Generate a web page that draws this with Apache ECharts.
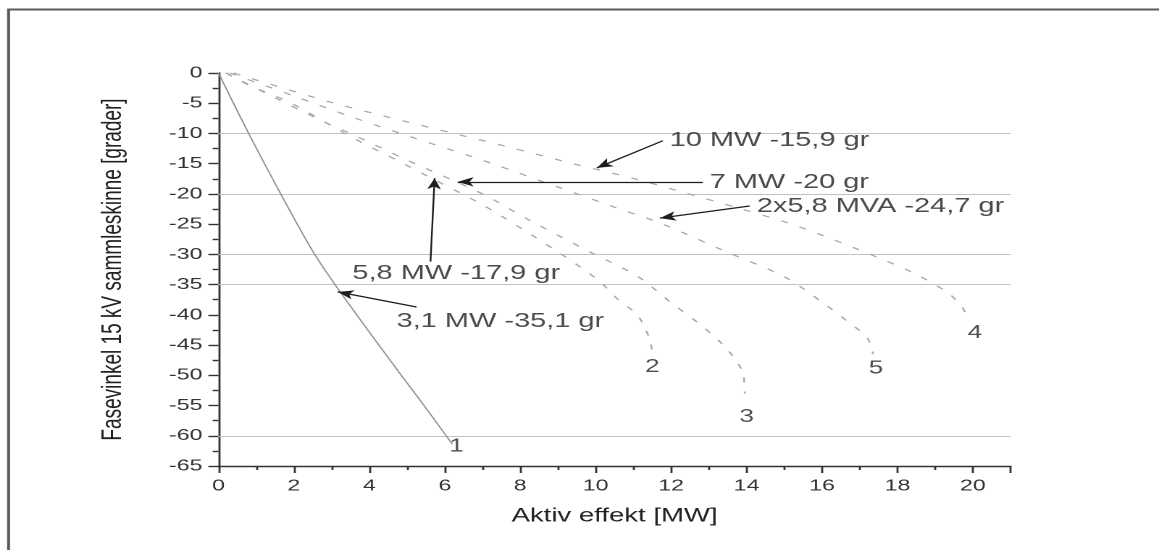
<!DOCTYPE html>
<html>
<head>
<meta charset="utf-8">
<script src="https://cdn.jsdelivr.net/npm/echarts@6/dist/echarts.min.js"></script>
<style>
html,body{margin:0;padding:0;background:#fff;overflow:hidden;}
#wrap{width:1159px;height:550px;overflow:hidden;position:relative;background:#fff;}
#c{width:800px;height:550px;transform:scaleX(1.44875);transform-origin:0 0;}
</style>
</head>
<body>
<div id="wrap"><div id="c"></div></div>
<script>
// ---- data ----
const curve1 = [[0,0],[0.8,-10],[1.65,-20],[2.5,-29.5],[3.1,-35.1],[3.7,-40.3],[4.3,-45.4],[4.87,-50.2],[5.45,-55],[6.0,-59.7],[6.2,-61.4]];
const curve2 = [[0.2,0],[0.8,-2],[1.8,-4.6],[2.4,-6.6],[3.5,-10.5],[5,-15.3],[5.8,-17.9],[7,-21.8],[8,-25.6],[9,-29.6],[9.8,-33],[10.2,-35],[10.6,-37.5],[11.1,-40],[11.4,-43.5],[11.5,-46]];
const curve3 = [[0.2,0],[1.5,-4.1],[2.94,-8.5],[3.5,-10],[5,-14.4],[7,-20],[8.2,-24.2],[9.85,-29.6],[11.1,-33.6],[12,-38],[12.85,-42],[13.5,-45.8],[13.9,-49.6],[13.95,-53]];
const curve4 = [[0.4,0],[2.9,-4.7],[4.5,-7.3],[6.5,-10.4],[7.6,-12.1],[9.4,-15],[10,-15.9],[11.1,-17.6],[12.3,-19.7],[13.7,-22.2],[15,-24.6],[15.9,-26.6],[17.2,-29.8],[18.4,-33],[19.3,-36.2],[19.7,-38.6],[19.9,-41]];
const curve5 = [[0.3,0],[2,-3.8],[3.5,-7.2],[5.07,-10.5],[6.6,-13.6],[7.4,-15.3],[8.7,-18.2],[9.65,-20.3],[10.5,-22.2],[11.7,-24.8],[13.55,-29.8],[15,-33.7],[16,-37.9],[16.7,-41.2],[17.2,-43.8],[17.35,-46.5]];

const curveNames = ['1','2','3','4','5'];
const curveLabelAnchors = [[6.31,-61.8],[11.5,-48.6],[14.0,-56.9],[20.05,-43.0],[17.43,-48.9]];

const gridValues = [-10,-20,-30,-35,-60];

const annotTexts = ['10 MW -15,9 gr','7 MW -20 gr','2x5,8 MVA -24,7 gr','5,8 MW -17,9 gr','3,1 MW -35,1 gr'];
const annotTextAt = [[11.96,-11.2],[13.02,-18.1],[14.27,-22.1],[3.55,-33.2],[4.72,-41.1]];
const annotArrowFrom = [[11.78,-11.2],[12.84,-18.0],[14.08,-22.0],[5.62,-31.2],[5.25,-38.7]];
const annotArrowTo = [[10.03,-15.7],[6.34,-18.0],[11.7,-24.0],[5.73,-17.4],[3.16,-36.2]];

const xName = 'Aktiv effekt [MW]';
const yName = 'Fasevinkel 15 kV sammleskinne [grader]';

// ---- chart ----
const chart = echarts.init(document.getElementById('c'), null, {renderer:'canvas', devicePixelRatio:2});
const FONT = 'Liberation Sans, Arial, sans-serif';
const dashed = {color:'#a6a6a6', width:1.2, type:[5,9]};

const curves = [curve1, curve2, curve3, curve4, curve5];
const series = curves.map((d,i)=>({
  type:'line', name:curveNames[i], data:d, symbol:'none', smooth:0.3, silent:true,
  lineStyle: i===0 ? {color:'#909090', width:1} : dashed,
  z:3
}));

series[0].markLine = {
  silent:true, symbol:'none', label:{show:false},
  lineStyle:{color:'#b9c4ce', width:1, type:'solid'},
  data: gridValues.map(v=>({yAxis:v})), z:1
};

series.push({
  type:'scatter', silent:true, symbolSize:0, z:5,
  data: curveLabelAnchors.map((p,i)=>({value:p, name:curveNames[i]})),
  label:{show:true, position:'inside', formatter:'{b}', color:'#222', fontSize:18, fontFamily:FONT}
});

series.push({
  type:'scatter', silent:true, symbolSize:0, z:5,
  data: annotTextAt.map((p,i)=>({value:p, name:annotTexts[i]})),
  label:{show:true, position:'right', distance:0, formatter:'{b}', color:'#1e1e1e', fontSize:20, fontFamily:FONT},
  markLine:{
    silent:true, symbol:['none','arrow'], symbolSize:[7,11], label:{show:false},
    lineStyle:{color:'#1e1e1e', width:1.2, type:'solid'},
    data: annotArrowFrom.map((f,i)=>[{coord:f},{coord:annotArrowTo[i]}])
  }
});

chart.setOption({
  backgroundColor:'#fff',
  animation:false,
  grid:{left:150.8, right:102.4, top:73, bottom:84},
  xAxis:{
    type:'value', min:0, max:21, interval:2,
    name:xName, nameLocation:'middle', nameGap:41,
    nameTextStyle:{fontSize:19, color:'#222', fontFamily:FONT},
    axisLine:{show:true, onZero:false, lineStyle:{color:'#333', width:1.4}},
    axisTick:{show:true, length:7, lineStyle:{color:'#333', width:1.4}},
    minorTick:{show:true, splitNumber:2, length:4, lineStyle:{color:'#333', width:1.4}},
    axisLabel:{fontSize:16, color:'#333', margin:12, fontFamily:FONT, showMaxLabel:false,
      formatter:v=> (v%2===0 ? String(v) : '')},
    splitLine:{show:false}
  },
  yAxis:{
    type:'value', min:-65, max:0, interval:5,
    name:yName, nameLocation:'middle', nameRotate:90, nameGap:63,
    nameTextStyle:{fontSize:19, color:'#222', fontFamily:FONT},
    axisLine:{show:true, onZero:false, lineStyle:{color:'#333', width:1.4}},
    axisTick:{show:true, length:7, lineStyle:{color:'#333', width:1.4}},
    minorTick:{show:true, splitNumber:2, length:4, lineStyle:{color:'#333', width:1.4}},
    axisLabel:{fontSize:16, color:'#333', margin:11, fontFamily:FONT},
    splitLine:{show:false}
  },
  graphic:[{
    type:'polyline', silent:true, z:0,
    shape:{points:[[5.9,620],[5.9,9.5],[830,9.5]]},
    style:{fill:null, stroke:'#5a5a5a', lineWidth:2}
  }],
  series: series
});
</script>
</body>
</html>
